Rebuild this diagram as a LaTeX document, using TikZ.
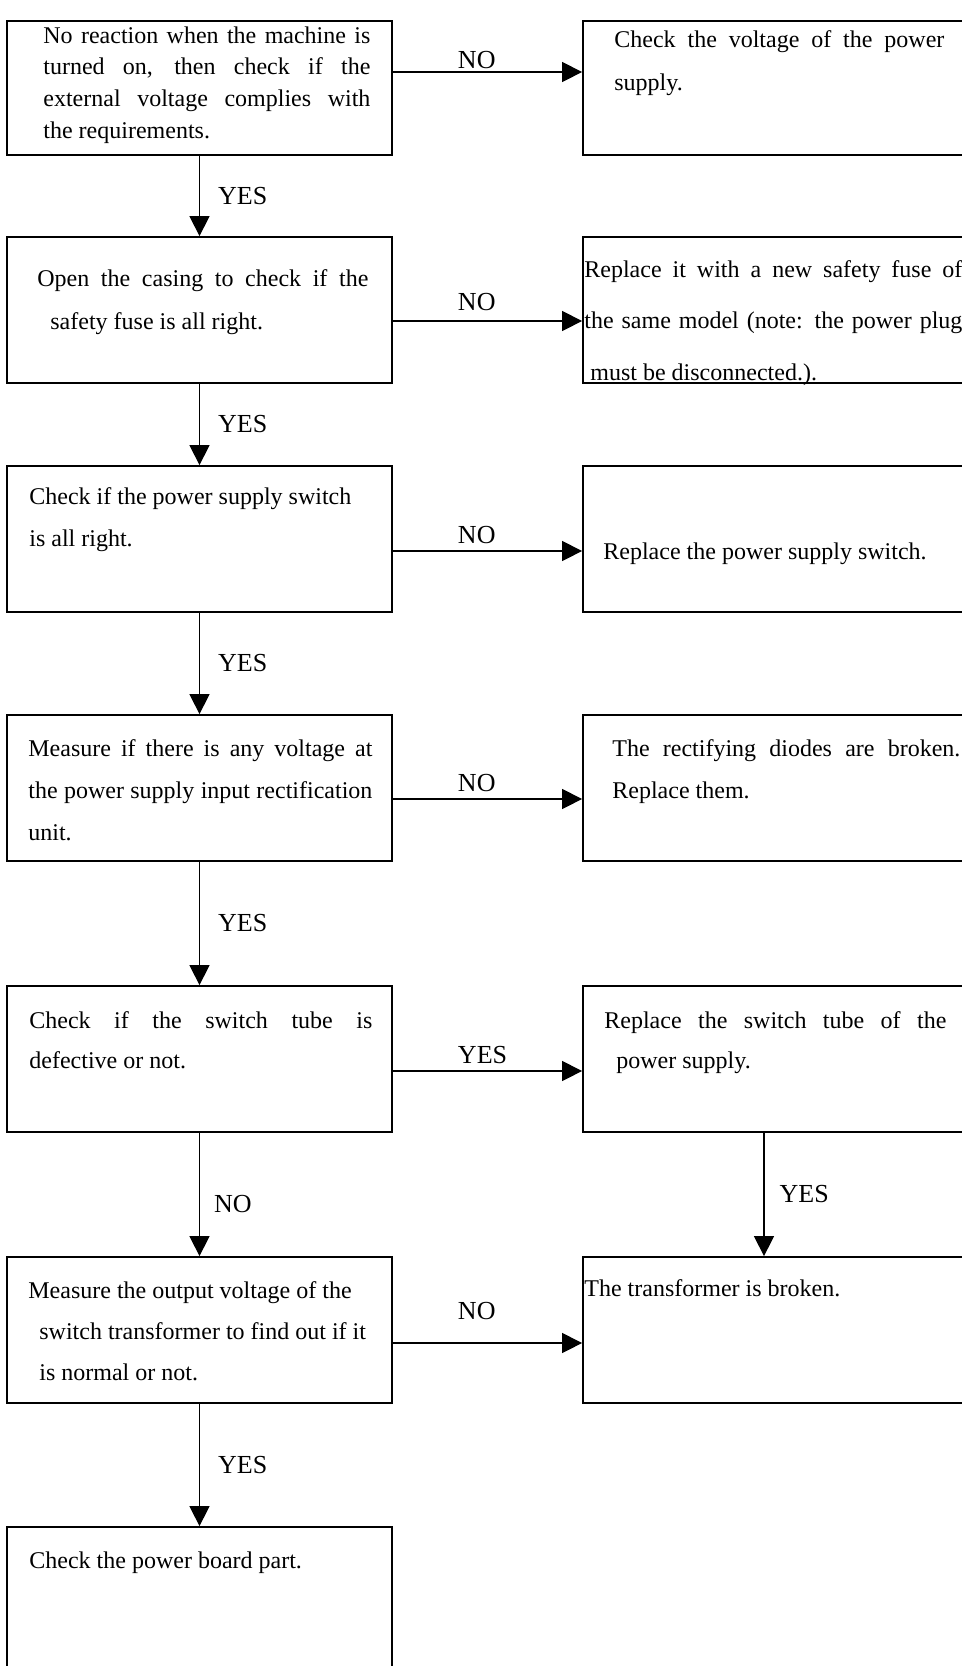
\documentclass[tikz,border=0pt]{standalone}
\usepackage{fontspec}
\setmainfont{Liberation Serif}
\usetikzlibrary{arrows.meta}
\setlength{\parindent}{0pt}
% a line spread out to the given width
\newcommand{\fillline}[2]{\makebox[#1][s]{\spaceskip=0pt\xspaceskip=0pt #2}}

\begin{document}
\begin{tikzpicture}[x=0.5pt, y=-0.5pt,
      box/.style={rectangle, draw, line width=0.9pt, inner sep=0pt, minimum width=192.5pt, minimum height=73pt},
      rbox/.style={box, minimum width=203.5pt},
      txt/.style={anchor=north west, inner sep=0pt, align=left, text width=190pt,
        execute at begin node={\spaceskip=0pt\xspaceskip=0pt}},
      leading/.style={font=\fontsize{12pt}{#1}\selectfont},
      lbl/.style={inner sep=1pt, font=\fontsize{13pt}{15pt}\selectfont},
      arr/.style={-{Triangle[length=10pt,width=10pt]}, line width=0.65pt}]
      \useasboundingbox (0,0) rectangle (962,1666);
      \clip (0,0) rectangle (962,1666);
      % left column
      \node[box, minimum height=67pt](l1) at (199.5, 88){};
      \node[box](l2) at (199.5, 310){};
      \node[box](l3) at (199.5, 539){};
      \node[box](l4) at (199.5, 788){};
      \node[box](l5) at (199.5, 1059){};
      \node[box](l6) at (199.5, 1330){};
      \node[box, minimum height=86.5pt](l7) at (199.5, 1613.5){};
      % right column
      \node[rbox, minimum height=67pt](r1) at (786.5, 88){};
      \node[rbox](r2) at (786.5, 310){};
      \node[rbox](r3) at (786.5, 539){};
      \node[rbox](r4) at (786.5, 788){};
      \node[rbox](r5) at (786.5, 1059){};
      \node[rbox](r6) at (786.5, 1330){};
      % texts
      \node[txt, leading=15.85pt](t1) at (43, 26){\fillline{163.5pt}{No reaction when the machine is}\\\fillline{163.5pt}{turned on, then check if the}\\\fillline{163.5pt}{external voltage complies with}\\the requirements.};
      \node[txt, leading=21.5pt](tr1) at (614, 30){\fillline{165pt}{Check the voltage of the power}\\supply.};
      \node[txt, leading=21.25pt](t2) at (37, 269.5){\fillline{165.5pt}{Open the casing to check if the}\\\hspace*{6.5pt}safety fuse is all right.};
      \node[txt, leading=25.75pt](tr2) at (584, 260){\fillline{189pt}{Replace it with a new safety fuse of}\\\fillline{189pt}{the same model (note: the power plug}\\\hspace*{3pt}must be disconnected.).};
      \node[txt, leading=21pt](t3) at (29, 487){Check if the power supply switch\\is all right.};
      \node[txt, leading=21pt](tr3) at (603, 542){Replace the power supply switch.};
      \node[txt, leading=21pt](t4) at (28, 739){\fillline{172pt}{Measure if there is any voltage at}\\\fillline{172pt}{the power supply input rectification}\\unit.};
      \node[txt, leading=21pt](tr4) at (612, 739){\fillline{174pt}{The rectifying diodes are broken.}\\Replace them.};
      \node[txt, leading=20pt](t5) at (29, 1011){\fillline{171.5pt}{Check if the switch tube is}\\defective or not.};
      \node[txt, leading=20pt](tr5) at (604, 1011){\fillline{171pt}{Replace the switch tube of the}\\\hspace*{6pt}power supply.};
      \node[txt, leading=20.5pt](t6) at (28, 1281){Measure the output voltage of the\\\hspace*{5.5pt}switch transformer to find out if it\\\hspace*{5.5pt}is normal or not.};
      \node[txt, leading=20pt](tr6) at (584, 1279){The transformer is broken.};
      \node[txt, leading=20pt](t7) at (29, 1551){Check the power board part.};
      % downward arrows
      \draw[arr] (l1) -- (l2) node[lbl, anchor=west, midway, xshift=8pt]{YES};
      \draw[arr] (l2) -- (l3) node[lbl, anchor=west, midway, xshift=8pt]{YES};
      \draw[arr] (l3) -- (l4) node[lbl, anchor=west, midway, xshift=8pt]{YES};
      \draw[arr] (l4) -- (l5) node[lbl, anchor=west, midway, xshift=8pt]{YES};
      \draw[arr] (l5) -- (l6) node[lbl, anchor=west, midway, xshift=6pt, yshift=-5pt]{NO};
      \draw[arr] (l6) -- (l7) node[lbl, anchor=west, midway, xshift=8pt]{YES};
      \draw[arr] ([xshift=-11.25pt]r5.south) -- ([xshift=-11.25pt]r6.north) node[lbl, anchor=west, midway, xshift=6.5pt]{YES};
      % sideways arrows
      \draw[arr] ([yshift=8pt]l1.east) -- ([yshift=8pt]r1.west) node[lbl, anchor=south west, pos=.33, yshift=.5pt]{NO};
      \draw[arr] ([yshift=-5.5pt]l2.east) -- ([yshift=-5.5pt]r2.west) node[lbl, anchor=south west, pos=.33, yshift=4pt]{NO};
      \draw[arr] ([yshift=-6pt]l3.east) -- ([yshift=-6pt]r3.west) node[lbl, anchor=south west, pos=.33, yshift=2.5pt]{NO};
      \draw[arr] ([yshift=-5.5pt]l4.east) -- ([yshift=-5.5pt]r4.west) node[lbl, anchor=south west, pos=.33, yshift=2.5pt]{NO};
      \draw[arr] ([yshift=-6pt]l5.east) -- ([yshift=-6pt]r5.west) node[lbl, anchor=south west, pos=.33, yshift=2.5pt]{YES};
      \draw[arr] ([yshift=-6.5pt]l6.east) -- ([yshift=-6.5pt]r6.west) node[lbl, anchor=south west, pos=.33, yshift=10.5pt]{NO};
    \end{tikzpicture}
\end{document}
